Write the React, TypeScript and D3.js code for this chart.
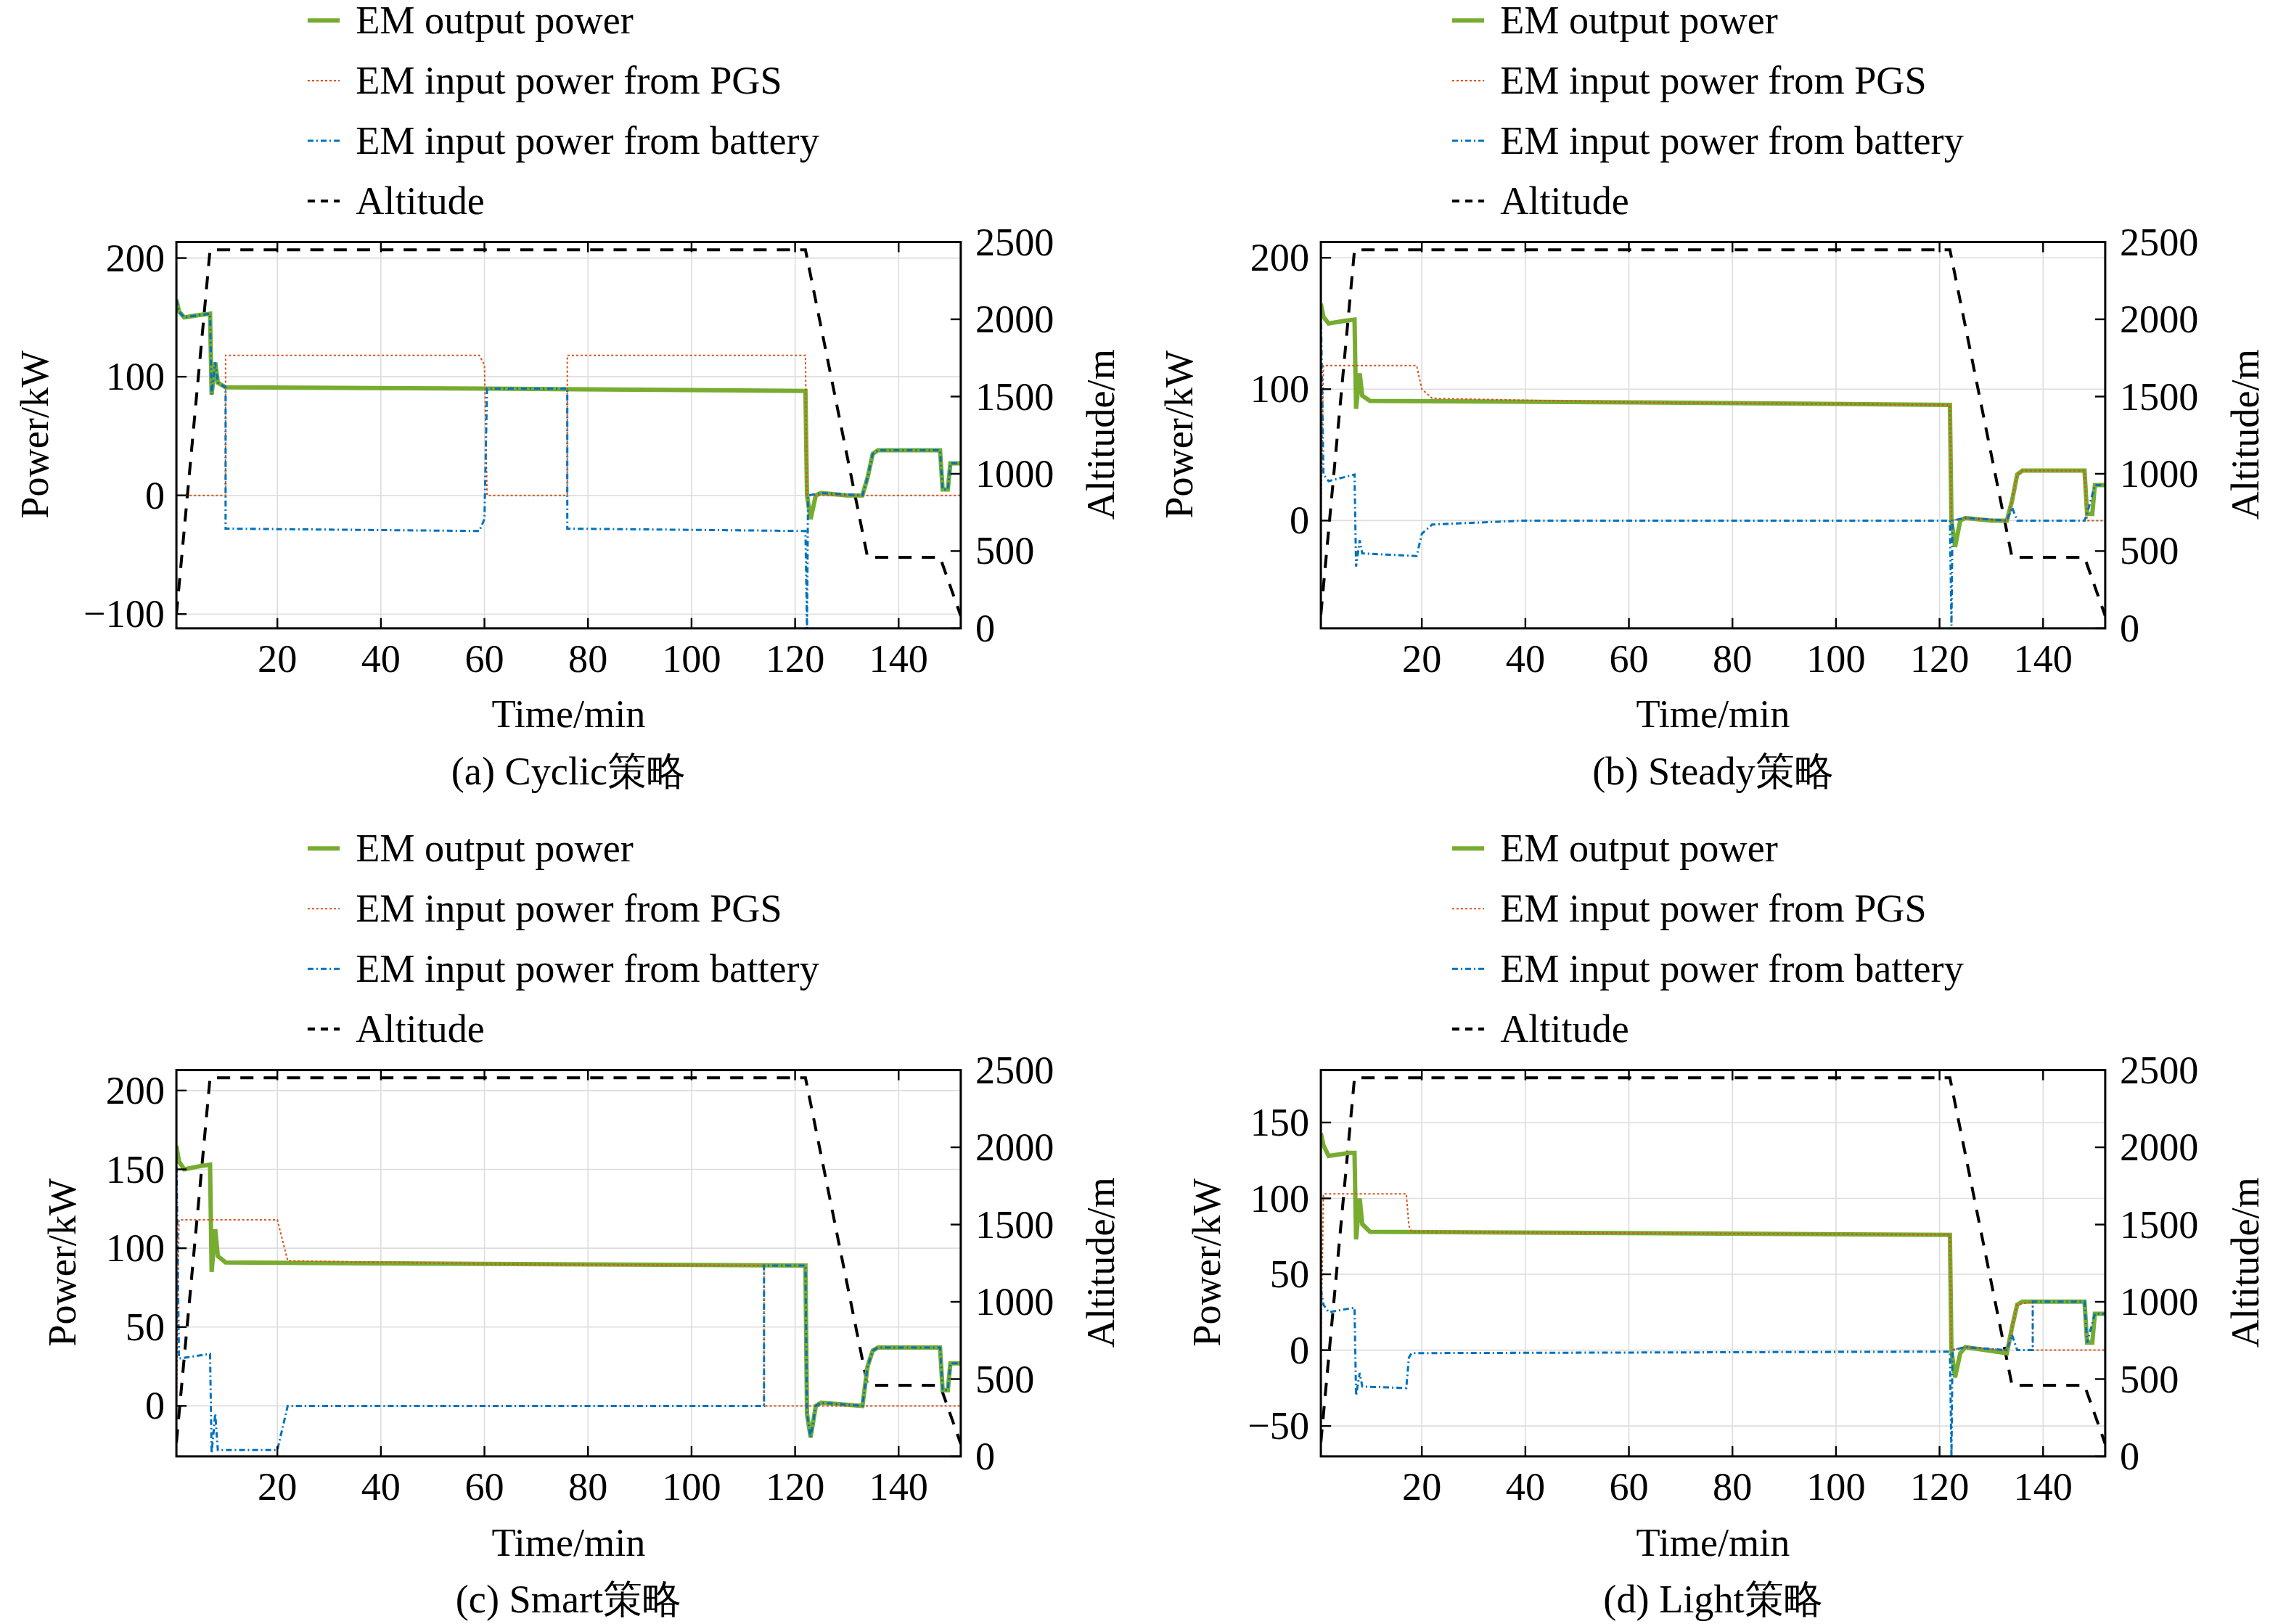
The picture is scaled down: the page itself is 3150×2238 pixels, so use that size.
import React from "react";
import * as d3 from "d3";

type P = [number, number];
const xTicks = [20, 40, 60, 80, 100, 120, 140];
const altTicks = [0, 500, 1000, 1500, 2000, 2500];
const legendLabels = ["EM output power", "EM input power from PGS", "EM input power from battery", "Altitude"];
const titles = ["(a) Cyclic策略", "(b) Steady策略", "(c) Smart策略", "(d) Light策略"];

const altitude: P[] = [[0.5, 90], [7, 2450], [122, 2450], [134, 460], [148, 460], [152, 80]];

const cyclicOut: P[] = [[0.5,165],[1,155],[2,150],[5,152],[7,153],[7.3,85],[8,112],[8.5,95],[10,91],[60,90],[122,88],[122.3,0],[123,-20],[124,0],[125,2],[130,0],[133,0],[134,15],[135,35],[136,38],[148,38],[148.5,5],[149.5,5],[150,27],[152,27]];
const cyclicPgs: P[] = [[0.5,0],[10,0],[10,118],[59,118],[60,110],[60.5,0],[76,0],[76,118],[122,118],[122.3,0],[152,0]];
const cyclicBat: P[] = [[0.5,165],[1,155],[2,150],[5,152],[7,153],[7.3,85],[8,112],[8.5,95],[10,91],[10,-28],[59,-30],[60,-20],[60.5,90],[76,90],[76,-28],[122,-30],[122.3,-112],[122.5,0],[125,2],[133,0],[134,15],[135,35],[136,38],[148,38],[148.5,5],[149.5,5],[150,27],[152,27]];

const steadyOut: P[] = [[0.5,165],[1,155],[2,150],[5,152],[7,153],[7.3,85],[8,112],[8.5,95],[10,91],[60,90],[122,88],[122.3,0],[123,-20],[124,0],[125,2],[130,0],[133,0],[134,15],[135,35],[136,38],[148,38],[148.5,5],[149.5,5],[150,27],[152,27]];
const steadyPgs: P[] = [[0.5,0],[1,118],[19,118],[20,100],[22,93],[60,90],[122,88],[122.3,0],[125,2],[133,0],[134,15],[135,35],[136,38],[148,38],[148.5,0],[152,0]];
const steadyBat: P[] = [[0.5,160],[1,35],[2,30],[7,35],[7.3,-35],[8,-15],[8.5,-25],[19,-27],[20,-10],[22,-3],[40,0],[122,0],[122.3,-80],[122.5,0],[125,2],[133,0],[134,10],[135,0],[148,0],[148.5,5],[150,27],[152,27]];

const smartOut: P[] = [[0.5,165],[1,155],[2,150],[5,152],[7,153],[7.3,85],[8,112],[8.5,95],[10,91],[60,90],[122,89],[122.3,-5],[123,-20],[124,0],[125,2],[133,0],[134,25],[135,35],[136,37],[148,37],[148.5,10],[149.5,10],[150,27],[152,27]];
const smartPgs: P[] = [[0.5,0],[1,118],[20,118],[22,92],[60,90],[114,89],[114,0],[152,0]];
const smartBat: P[] = [[0.5,160],[1,30],[7,33],[7.3,-30],[8,-5],[8.5,-28],[20,-28],[22,0],[114,0],[114,89],[122,89],[122.3,-5],[123,-20],[124,0],[125,2],[133,0],[134,25],[135,35],[136,37],[148,37],[148.5,10],[149.5,10],[150,27],[152,27]];

const lightOut: P[] = [[0.5,143],[1,135],[2,128],[6,130],[7,130],[7.3,73],[8,100],[8.5,83],[10,78],[122,76],[122.3,0],[123,-18],[124,-2],[125,2],[133,-2],[134,15],[135,30],[136,32],[148,32],[148.5,5],[149.5,5],[150,24],[152,24]];
const lightPgs: P[] = [[0.5,0],[1,103],[17,103],[17.5,82],[18,78],[122,76],[122.3,0],[125,2],[133,0],[134,15],[135,30],[138,32],[138,0],[152,0]];
const lightBat: P[] = [[0.5,40],[1,30],[2,25],[7,28],[7.3,-30],[8,-15],[8.5,-24],[17,-25],[17.5,-5],[18,-2],[122,-1],[122.3,-70],[122.5,0],[125,2],[133,0],[134,10],[135,0],[138,0],[138,32],[148,32],[148.5,5],[150,24],[152,24]];

const powerTicks = [[-100, 0, 100, 200], [0, 100, 200], [0, 50, 100, 150, 200], [-50, 0, 50, 100, 150]];
const powerDomains: P[] = [[-112, 213.5], [-82, 212], [-32, 213], [-70, 184.6]];

const panels = [
  { out: cyclicOut, pgs: cyclicPgs, bat: cyclicBat },
  { out: steadyOut, pgs: steadyPgs, bat: steadyBat },
  { out: smartOut, pgs: smartPgs, bat: smartBat },
  { out: lightOut, pgs: lightPgs, bat: lightBat },
];

const F = "'Liberation Serif', 'Times New Roman', serif";
const GREEN = "#77ac30", ORANGE = "#d95319", BLUE = "#0072bd";
const FS = 27;

function Panel({ i }: { i: number }) {
  const ox = (i % 2) * 785;
  const oy = Math.floor(i / 2) * 568;
  const L = 121, R = 659, T = 166, B = 431;
  const x = d3.scaleLinear().domain([0.5, 152]).range([L, R]);
  const y = d3.scaleLinear().domain(powerDomains[i]).range([B, T]);
  const ya = d3.scaleLinear().domain([0, 2500]).range([B, T]);
  const line = d3.line<P>().x(d => x(d[0])).y(d => y(d[1]));
  const aline = d3.line<P>().x(d => x(d[0])).y(d => ya(d[1]));
  const p = panels[i];
  const clip = `clip${i}`;
  const ylx = i === 0 || i === 1 ? 33 : 52;
  return (
    <g transform={`translate(${ox},${oy})`} fontFamily={F}>
      <defs><clipPath id={clip}><rect x={L} y={T} width={R - L} height={B - T} /></clipPath></defs>
      {legendLabels.map((t, k) => {
        const yy = 14 + k * 41.3;
        const st = [
          { s: GREEN, w: 3, d: "" },
          { s: ORANGE, w: 1, d: "1.5,1.5" },
          { s: BLUE, w: 1.5, d: "4,2,1,2" },
          { s: "#000", w: 2, d: "5,4" },
        ][k];
        return (
          <g key={k}>
            <line x1={211} x2={233} y1={yy} y2={yy} stroke={st.s} strokeWidth={st.w} strokeDasharray={st.d} />
            <text x={244} y={yy + 9} fontSize={FS}>{t}</text>
          </g>
        );
      })}
      {xTicks.map(t => <line key={t} x1={x(t)} x2={x(t)} y1={T} y2={B} stroke="#ddd" strokeWidth={0.8} />)}
      {powerTicks[i].map(t => <line key={t} x1={L} x2={R} y1={y(t)} y2={y(t)} stroke="#ddd" strokeWidth={0.8} />)}
      <g clipPath={`url(#${clip})`} fill="none">
        <path d={aline(altitude)!} stroke="#000" strokeWidth={2} strokeDasharray="9,7" />
        <path d={line(p.out)!} stroke={GREEN} strokeWidth={3} />
        <path d={line(p.pgs)!} stroke={ORANGE} strokeWidth={1} strokeDasharray="1.5,1.5" />
        <path d={line(p.bat)!} stroke={BLUE} strokeWidth={1.5} strokeDasharray="4,2,1,2" />
      </g>
      <rect x={L} y={T} width={R - L} height={B - T} fill="none" stroke="#000" strokeWidth={1.5} />
      {xTicks.map(t => (
        <g key={t}>
          <line x1={x(t)} x2={x(t)} y1={B} y2={B - 7} stroke="#000" strokeWidth={1.2} />
          <line x1={x(t)} x2={x(t)} y1={T} y2={T + 7} stroke="#000" strokeWidth={1.2} />
          <text x={x(t)} y={B + 30} fontSize={FS} textAnchor="middle">{t}</text>
        </g>
      ))}
      {powerTicks[i].map(t => (
        <g key={t}>
          <line x1={L} x2={L + 7} y1={y(t)} y2={y(t)} stroke="#000" strokeWidth={1.2} />
          <text x={L - 8} y={y(t) + 9} fontSize={FS} textAnchor="end">{t < 0 ? "\u2212" + (-t) : t}</text>
        </g>
      ))}
      {altTicks.map(t => (
        <g key={t}>
          <line x1={R} x2={R - 7} y1={ya(t)} y2={ya(t)} stroke="#000" strokeWidth={1.2} />
          <text x={R + 10} y={ya(t) + 9} fontSize={FS}>{t}</text>
        </g>
      ))}
      <text x={390} y={499} fontSize={FS} textAnchor="middle">Time/min</text>
      <text x={390} y={538} fontSize={FS} textAnchor="middle">{titles[i]}</text>
      <text transform={`translate(${ylx},298) rotate(-90)`} fontSize={FS} textAnchor="middle">Power/kW</text>
      <text transform={`translate(764,298) rotate(-90)`} fontSize={FS} textAnchor="middle">Altitude/m</text>
    </g>
  );
}

export default function App() {
  return (
    <svg width={3150} height={2238} viewBox="0 0 1568 1114" style={{ display: "block", background: "#fff", position: "absolute", left: 0, top: 0 }}>
      <rect width={1568} height={1114} fill="#fff" />
      {[0, 1, 2, 3].map(i => <Panel key={i} i={i} />)}
    </svg>
  );
}
